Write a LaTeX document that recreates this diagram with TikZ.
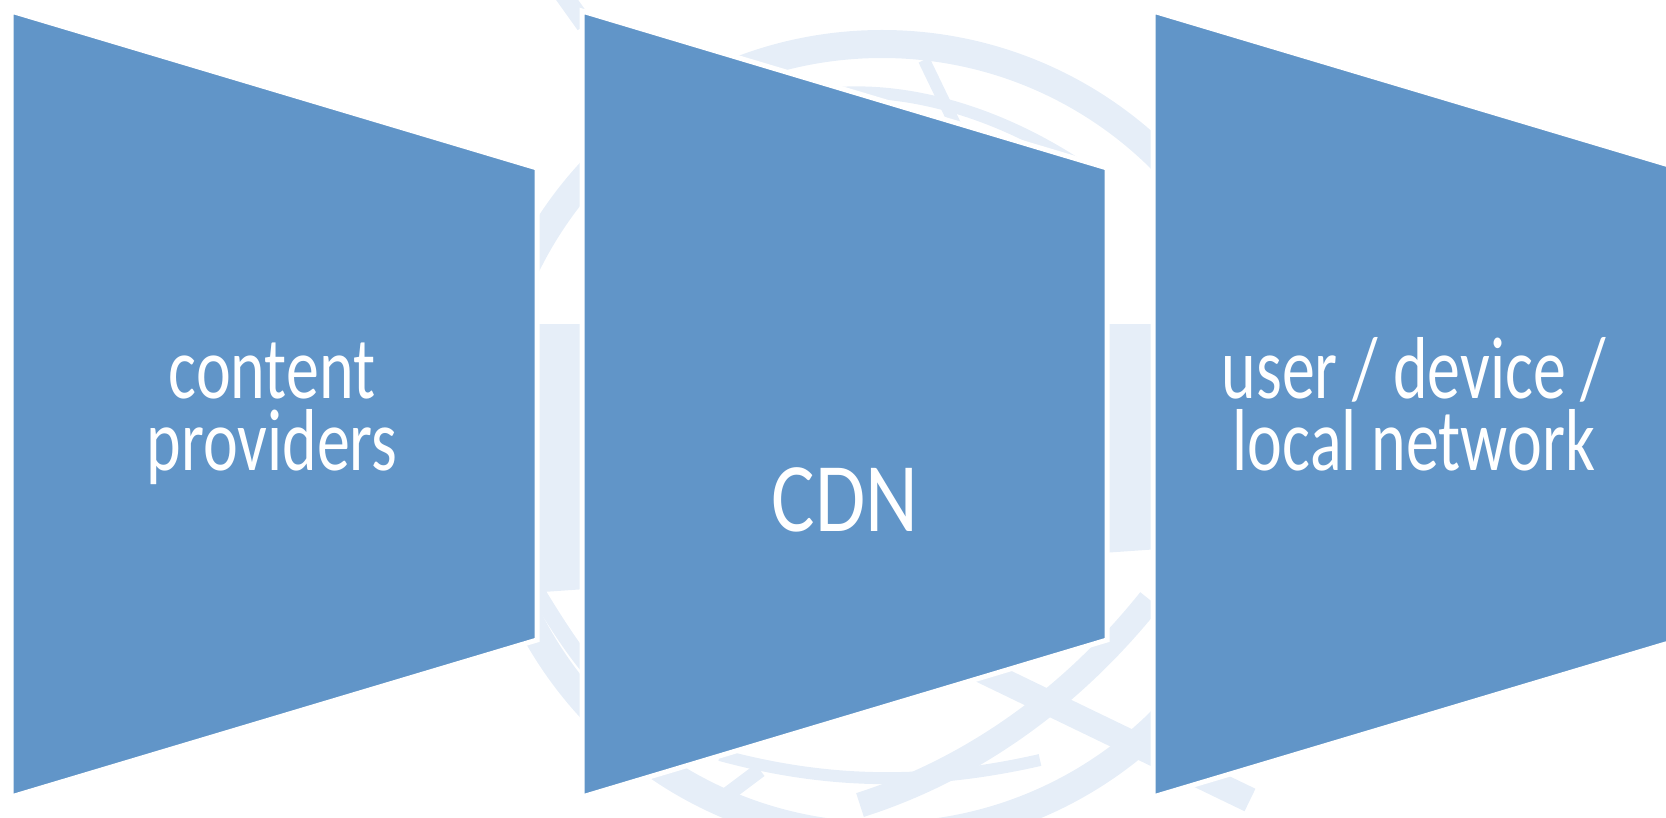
\documentclass[tikz,border=0pt]{standalone}
\usepackage{fontspec}
\setmainfont{Carlito}
\definecolor{shapeblue}{HTML}{6195C8}
\definecolor{wm}{HTML}{E6EEF8}
\begin{document}
\begin{tikzpicture}[x=0.01cm,y=-0.01cm,
  panel/.style={fill=shapeblue,draw=white,line width=0.05cm},
  lbl/.style={text=white,font=\fontsize{25pt}{30pt}\selectfont,anchor=base,xscale=0.75,transform shape,inner sep=0pt,text height=0.5em,text depth=0.05em},
  bigl/.style={text=white,font=\fontsize{28pt}{32pt}\selectfont,anchor=base,xscale=0.83,transform shape,inner sep=0pt}]
\useasboundingbox (0,0) rectangle (1666,818);
% faint watermark (globe)
\begin{scope}
  \clip (0,0) rectangle (1666,818);
  \draw[wm,line width=0.28cm] (882,440) circle (396);
  \fill[wm] (500,324) -- (1260,324) -- (1260,542) -- (500,595) -- cycle;
  \draw[wm,line width=0.18cm] (560,-10) -- (585,25);
  \draw[wm,line width=0.12cm] (760,110) .. controls (860,70) and (990,100) .. (1100,180);
  \draw[wm,line width=0.12cm] (924,60) -- (965,145);
  \draw[wm,line width=0.16cm] (530,580) .. controls (560,630) and (580,660) .. (600,680);
  \draw[wm,line width=0.25cm] (960,660) -- (1250,800);
  \draw[wm,line width=0.25cm] (1150,600) .. controls (1070,700) and (970,770) .. (860,805);
  \draw[wm,line width=0.12cm] (720,755) .. controls (830,785) and (930,785) .. (1040,760);
  \draw[wm,line width=0.15cm] (760,770) -- (720,800);
\end{scope}
% panels
\path[panel] (11,11) -- (537,168) -- (537,640) -- (11,797) -- cycle;
\path[panel] (582,11) -- (1107,168) -- (1107,640) -- (582,797) -- cycle;
\path[panel] (1153,11) -- (1679,168) -- (1679,640) -- (1153,797) -- cycle;
\node[lbl] (cp1) at (272,398) {content};
\node[lbl] (cp2) at (272,470) {providers};
\node[bigl] (cdn) at (845,531) {CDN};
\node[lbl] (ud1) at (1414,398) {user / device /};
\node[lbl] (ud2) at (1414,470) {local network};
\end{tikzpicture}
\end{document}
